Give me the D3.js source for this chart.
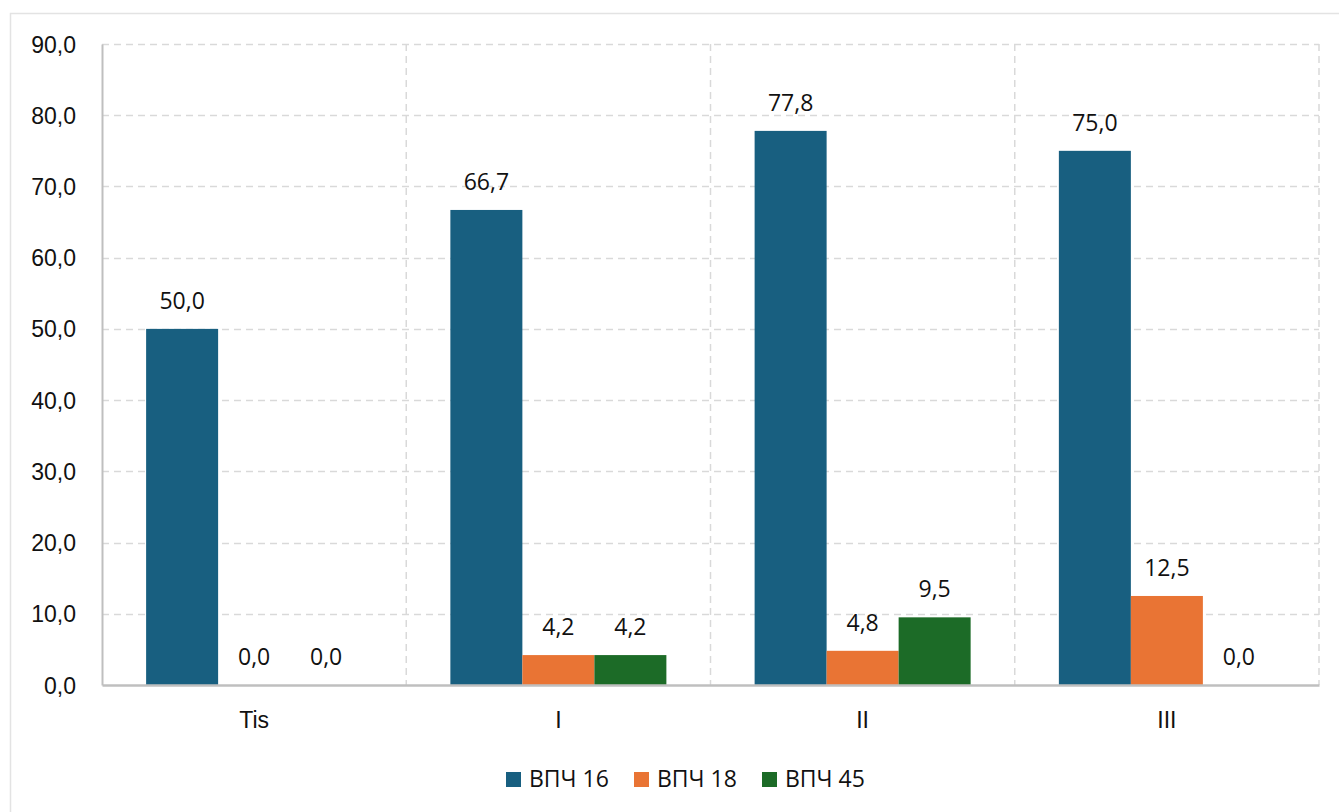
<!DOCTYPE html>
<html>
<head>
<meta charset="utf-8">
<script src="https://cdn.jsdelivr.net/npm/d3@7"></script>
<style>
  html, body { margin: 0; padding: 0; background: #fff; }
  svg { display: block; font-family: "Open Sans", "Noto Sans", sans-serif; }
</style>
</head>
<body>
<svg id="chart" width="1339" height="812"></svg>
<script>
// Stages and HPV type shares (%)
const categories = ["Tis", "I", "II", "III"];
const seriesNames = ["ВПЧ 16", "ВПЧ 18", "ВПЧ 45"];
const hpv16 = [50.0, 66.7, 77.8, 75.0];
const hpv18 = [0.0, 4.2, 4.8, 12.5];
const hpv45 = [0.0, 4.2, 9.5, 0.0];
const yTicks = [0, 10, 20, 30, 40, 50, 60, 70, 80, 90];
const colors = ["#185f80", "#e97434", "#1c6b27"];

const seriesValues = [hpv16, hpv18, hpv45];
const fmt = v => v.toFixed(1).replace(".", ",");
const FS = 23;

const svg = d3.select("#chart");
const margin = { left: 102, top: 44 };
const W = 1339, H = 812;
const plotW = 1319 - margin.left;
const plotH = 685 - margin.top;

// outer frame
svg.append("rect")
  .attr("x", 10.5).attr("y", 13.5)
  .attr("width", W).attr("height", H)
  .attr("fill", "none").attr("stroke", "#e3e3e3").attr("stroke-width", 1.5);

const g = svg.append("g").attr("transform", `translate(${margin.left},${margin.top})`);

const x0 = d3.scaleBand().domain(categories).range([0, plotW]).padding(0);
const gap = x0.bandwidth() * 0.145;
const x1 = d3.scaleBand().domain(seriesNames).range([gap, x0.bandwidth() - gap]).padding(0);
const y = d3.scaleLinear().domain([0, 90]).range([plotH, 0]);

// horizontal dashed grid
g.append("g").selectAll("line").data(yTicks.filter(t => t > 0)).join("line")
  .attr("x1", 0).attr("x2", plotW)
  .attr("y1", d => Math.round(y(d)) + 0.5).attr("y2", d => Math.round(y(d)) + 0.5)
  .attr("stroke", "#d9d9d9").attr("stroke-width", 1.5).attr("stroke-dasharray", "7,5");

// vertical dashed separators between stages
g.append("g").selectAll("line").data(categories.slice(1).concat(["end"])).join("line")
  .attr("x1", d => d === "end" ? plotW : x0(d))
  .attr("x2", d => d === "end" ? plotW : x0(d))
  .attr("y1", 0).attr("y2", plotH)
  .attr("stroke", "#d9d9d9").attr("stroke-width", 1.5).attr("stroke-dasharray", "7,5");

// y axis
const yAxis = g.append("g").call(d3.axisLeft(y).tickValues(yTicks).tickFormat(fmt).tickSize(0).tickPadding(26));
yAxis.select(".domain").attr("stroke", "#bfbfbf").attr("stroke-width", 2);
yAxis.selectAll("text").attr("font-size", FS).attr("fill", "#111").attr("dy", "0.35em");

// bars
const groups = g.append("g").selectAll("g").data(categories).join("g")
  .attr("transform", d => `translate(${x0(d)},0)`);

const cells = (c, i) => seriesNames.map((s, j) => ({ s, j, v: seriesValues[j][i] }));

groups.selectAll("rect").data(cells).join("rect")
  .attr("x", d => x1(d.s))
  .attr("width", x1.bandwidth())
  .attr("y", d => y(d.v))
  .attr("height", d => plotH - y(d.v))
  .attr("fill", d => colors[d.j]);

groups.selectAll("text").data(cells).join("text")
  .attr("x", d => x1(d.s) + x1.bandwidth() / 2)
  .attr("y", d => y(d.v) - 20)
  .attr("text-anchor", "middle")
  .attr("font-size", FS)
  .attr("fill", "#111")
  .text(d => fmt(d.v));

// x axis
const xAxis = g.append("g").attr("transform", `translate(0,${plotH})`)
  .call(d3.axisBottom(x0).tickSize(0).tickPadding(43));
xAxis.select(".domain").attr("stroke", "#bfbfbf").attr("stroke-width", 2.5);
xAxis.selectAll("text").attr("font-size", FS).attr("fill", "#111").attr("dy", 0);

// legend
const legendX = [506, 634, 762];
const legend = svg.append("g").selectAll("g").data(seriesNames).join("g")
  .attr("transform", (d, i) => `translate(${legendX[i]},772)`);
legend.append("rect").attr("width", 15).attr("height", 15).attr("fill", (d, i) => colors[i]);
legend.append("text").attr("x", 23).attr("y", 15)
  .attr("font-size", FS).attr("fill", "#111").text(d => d);
</script>
</body>
</html>
